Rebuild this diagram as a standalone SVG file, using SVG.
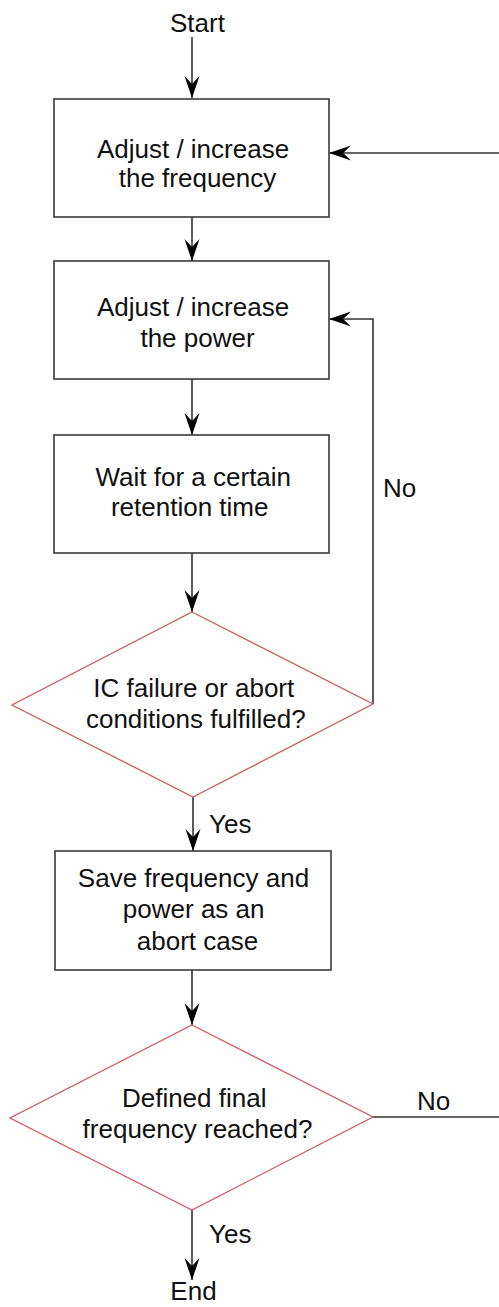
<svg xmlns="http://www.w3.org/2000/svg" width="499" height="1307" viewBox="0 0 499 1307">
<style>
text{font-family:"Liberation Sans",Arial,sans-serif;font-size:26px;fill:#111;}
.c{text-anchor:middle;}
.box{fill:#fff;stroke:#3a3a3a;stroke-width:1.6;}
.dia{fill:#fff;stroke:#d05a5a;stroke-width:1.3;}
.con{fill:none;stroke:#333;stroke-width:1.6;}
</style>
<defs>
<marker id="ah" viewBox="-22 -8 22 16" refX="0" refY="0" markerWidth="22" markerHeight="16" markerUnits="userSpaceOnUse" orient="auto">
<path d="M0,0 L-22,-7.5 L-14,0 L-22,7.5 Z" fill="#000"/>
</marker>
</defs>
<rect width="499" height="1307" fill="#fff"/>
<g id="connectors">
<path class="con" d="M192,37 V98" marker-end="url(#ah)"/>
<path class="con" d="M192,217 V261" marker-end="url(#ah)"/>
<path class="con" d="M192,379 V435" marker-end="url(#ah)"/>
<path class="con" d="M192,553 V612" marker-end="url(#ah)"/>
<path class="con" d="M373,704 V319 H329" marker-end="url(#ah)"/>
<path class="con" d="M193,797 V851" marker-end="url(#ah)"/>
<path class="con" d="M192,970 V1025" marker-end="url(#ah)"/>
<path class="con" d="M373,1117 H503 V153 H329" marker-end="url(#ah)"/>
<path class="con" d="M192,1210 V1280" marker-end="url(#ah)"/>
<text x="383" y="497">No</text>
<text x="209" y="833">Yes</text>
<text x="417" y="1110">No</text>
<text x="209" y="1243">Yes</text>
</g>
<g id="start"><text class="c" x="197.5" y="32">Start</text></g>
<g id="adjust-frequency">
<rect class="box" x="54" y="99" width="275" height="118"/>
<text class="c" x="193" y="158">Adjust / increase</text>
<text class="c" x="197.5" y="187">the frequency</text>
</g>
<g id="adjust-power">
<rect class="box" x="54" y="261" width="275" height="118"/>
<text class="c" x="193" y="316">Adjust / increase</text>
<text class="c" x="197.5" y="347">the power</text>
</g>
<g id="wait">
<rect class="box" x="54" y="435" width="275" height="118"/>
<text class="c" x="193.3" y="486">Wait for a certain</text>
<text class="c" x="189.7" y="516">retention time</text>
</g>
<g id="ic-failure">
<polygon class="dia" points="192,612 373,704 193,797 12,705"/>
<text class="c" x="193.8" y="697">IC failure or abort</text>
<text class="c" x="195.8" y="728">conditions fulfilled?</text>
</g>
<g id="save">
<rect class="box" x="55" y="851" width="276" height="119"/>
<text class="c" x="193.5" y="887">Save frequency and</text>
<text class="c" x="193.7" y="918">power as an</text>
<text class="c" x="197.5" y="950">abort case</text>
</g>
<g id="final-frequency">
<polygon class="dia" points="192,1025 373,1117 192,1210 10,1118"/>
<text class="c" x="194.2" y="1107">Defined final</text>
<text class="c" x="197.5" y="1138">frequency reached?</text>
</g>
<g id="end"><text class="c" x="193.5" y="1300">End</text></g>
</svg>
